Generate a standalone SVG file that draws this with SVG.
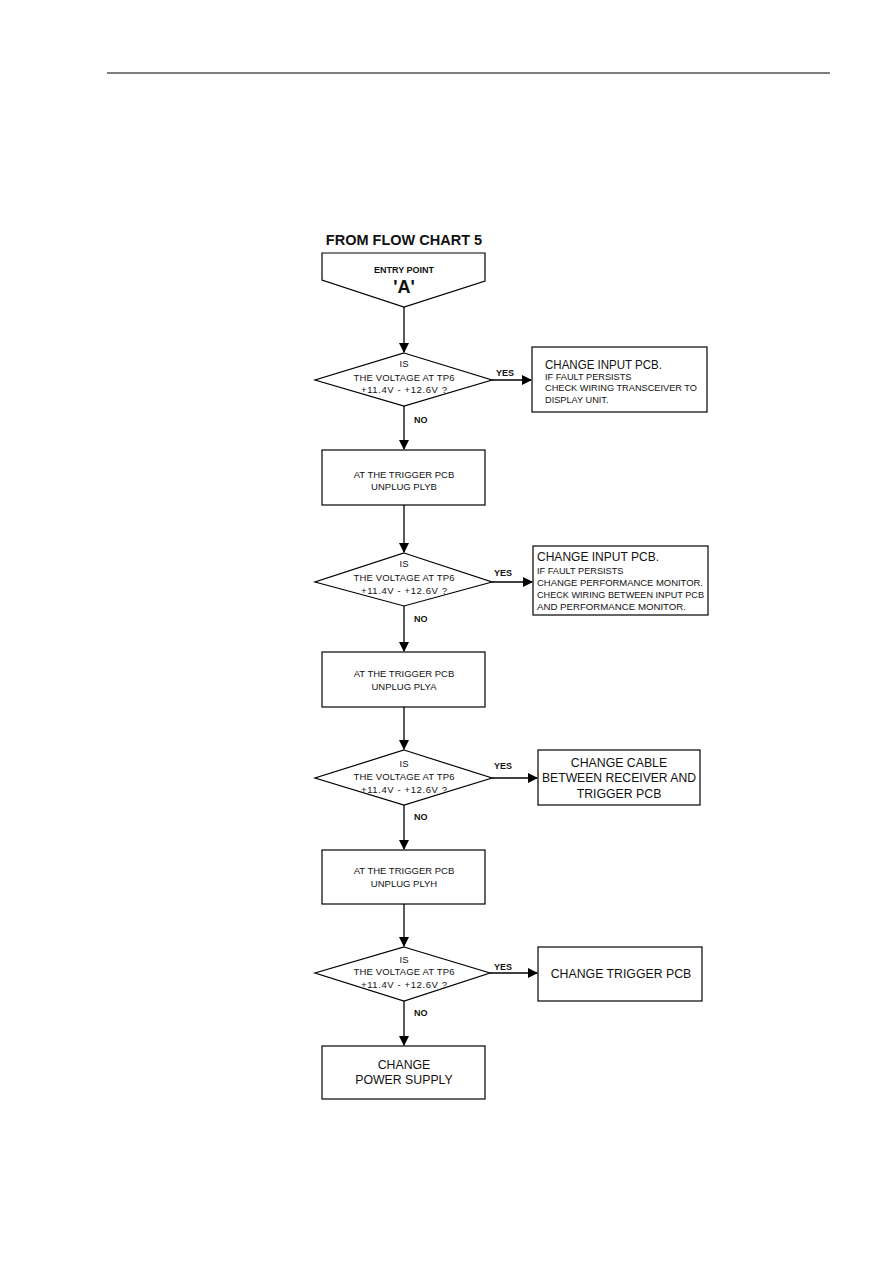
<svg xmlns="http://www.w3.org/2000/svg" width="893" height="1263" viewBox="0 0 893 1263">
<style>
.s{fill:#fff;stroke:#000;stroke-width:1.2}
.c{stroke:#000;stroke-width:1.3;fill:none}
text{font-family:"Liberation Sans",Arial,sans-serif;fill:#111}
.d{font-size:9.5px;text-anchor:middle}
.b{font-size:9.5px;text-anchor:middle}
.lbl{font-size:9px;font-weight:bold}
.big{font-size:12.3px}
.sm{font-size:9.2px}
.m{text-anchor:middle}
</style>
<defs>
<marker id="ar" markerWidth="10" markerHeight="10" refX="9" refY="5" orient="auto" markerUnits="userSpaceOnUse">
<path d="M0,0 L10,5 L0,10 Z" fill="#000"/>
</marker>
</defs>
<rect width="893" height="1263" fill="#fff"/>
<line x1="107" y1="73" x2="830" y2="73" stroke="#000" stroke-width="1.2"/>
<text x="404" y="245" font-size="14.5" font-weight="bold" text-anchor="middle">FROM FLOW CHART 5</text>

<g id="connectors">
<line class="c" x1="404" y1="307" x2="404" y2="352" marker-end="url(#ar)"/>
<line class="c" x1="492" y1="380" x2="531" y2="380" marker-end="url(#ar)"/>
<line class="c" x1="404" y1="406" x2="404" y2="449" marker-end="url(#ar)"/>
<line class="c" x1="404" y1="505" x2="404" y2="552" marker-end="url(#ar)"/>
<line class="c" x1="492" y1="582" x2="532" y2="582" marker-end="url(#ar)"/>
<line class="c" x1="404" y1="606" x2="404" y2="651" marker-end="url(#ar)"/>
<line class="c" x1="404" y1="707" x2="404" y2="749" marker-end="url(#ar)"/>
<line class="c" x1="492" y1="778" x2="537" y2="778" marker-end="url(#ar)"/>
<line class="c" x1="404" y1="805" x2="404" y2="849" marker-end="url(#ar)"/>
<line class="c" x1="404" y1="904" x2="404" y2="946" marker-end="url(#ar)"/>
<line class="c" x1="490" y1="973" x2="537" y2="973" marker-end="url(#ar)"/>
<line class="c" x1="404" y1="1001" x2="404" y2="1045" marker-end="url(#ar)"/>
<text class="lbl" x="496" y="376">YES</text>
<text class="lbl" x="414" y="423">NO</text>
<text class="lbl" x="494" y="576">YES</text>
<text class="lbl" x="414" y="622">NO</text>
<text class="lbl" x="494" y="769">YES</text>
<text class="lbl" x="414" y="820">NO</text>
<text class="lbl" x="494" y="970">YES</text>
<text class="lbl" x="414" y="1016">NO</text>
</g>

<g id="entry">
<path class="s" d="M322,253 L485,253 L485,281 L404,307 L322,280 Z"/>
<text x="404" y="273" font-size="9" font-weight="bold" text-anchor="middle">ENTRY POINT</text>
<text x="404" y="293" font-size="18" font-weight="bold" text-anchor="middle">'A'</text>
</g>

<g id="dec1">
<path class="s" d="M404,353 L492,380 L404,406 L315,380 Z"/>
<text class="d" x="404" y="367">IS</text>
<text class="d" x="404" y="381" textLength="101" lengthAdjust="spacing">THE VOLTAGE AT TP6</text>
<text class="d" x="404" y="393" textLength="86" lengthAdjust="spacing">+11.4V -  +12.6V ?</text>
</g>

<g id="yes1">
<rect class="s" x="532" y="347" width="175" height="65"/>
<text class="big" x="545" y="369" textLength="117" lengthAdjust="spacingAndGlyphs">CHANGE INPUT PCB.</text>
<text class="sm" x="545" y="380">IF FAULT PERSISTS</text>
<text class="sm" x="545" y="391" textLength="152" lengthAdjust="spacingAndGlyphs">CHECK WIRING TRANSCEIVER TO</text>
<text class="sm" x="545" y="403">DISPLAY UNIT.</text>
</g>

<g id="box1">
<rect class="s" x="322" y="450" width="163" height="55"/>
<text class="b" x="404" y="478">AT THE TRIGGER PCB</text>
<text class="b" x="404" y="490">UNPLUG PLYB</text>
</g>

<g id="dec2">
<path class="s" d="M404,553 L492,582 L404,606 L315,582 Z"/>
<text class="d" x="404" y="567">IS</text>
<text class="d" x="404" y="581" textLength="101" lengthAdjust="spacing">THE VOLTAGE AT TP6</text>
<text class="d" x="404" y="594" textLength="86" lengthAdjust="spacing">+11.4V -  +12.6V ?</text>
</g>

<g id="yes2">
<rect class="s" x="533" y="546" width="175" height="69"/>
<text class="big" x="537" y="561" textLength="122" lengthAdjust="spacingAndGlyphs">CHANGE INPUT PCB.</text>
<text class="sm" x="537" y="574">IF FAULT PERSISTS</text>
<text class="sm" x="537" y="586" textLength="166" lengthAdjust="spacingAndGlyphs">CHANGE PERFORMANCE MONITOR.</text>
<text class="sm" x="537" y="598" textLength="167" lengthAdjust="spacingAndGlyphs">CHECK WIRING BETWEEN INPUT PCB</text>
<text class="sm" x="537" y="610" textLength="149" lengthAdjust="spacingAndGlyphs">AND PERFORMANCE MONITOR.</text>
</g>

<g id="box2">
<rect class="s" x="322" y="652" width="163" height="55"/>
<text class="b" x="404" y="677">AT THE TRIGGER PCB</text>
<text class="b" x="404" y="690">UNPLUG PLYA</text>
</g>

<g id="dec3">
<path class="s" d="M404,750 L492,778 L404,805 L315,778 Z"/>
<text class="d" x="404" y="767">IS</text>
<text class="d" x="404" y="780" textLength="101" lengthAdjust="spacing">THE VOLTAGE AT TP6</text>
<text class="d" x="404" y="793" textLength="86" lengthAdjust="spacing">+11.4V -  +12.6V ?</text>
</g>

<g id="yes3">
<rect class="s" x="538" y="750" width="162" height="55"/>
<text class="big m" x="619" y="767">CHANGE CABLE</text>
<text class="big m" x="619" y="782" textLength="154" lengthAdjust="spacingAndGlyphs">BETWEEN RECEIVER AND</text>
<text class="big m" x="619" y="798">TRIGGER PCB</text>
</g>

<g id="box3">
<rect class="s" x="322" y="850" width="163" height="54"/>
<text class="b" x="404" y="874">AT THE TRIGGER PCB</text>
<text class="b" x="404" y="887">UNPLUG PLYH</text>
</g>

<g id="dec4">
<path class="s" d="M404,947 L490,973 L404,1001 L315,973 Z"/>
<text class="d" x="404" y="963">IS</text>
<text class="d" x="404" y="975" textLength="101" lengthAdjust="spacing">THE VOLTAGE AT TP6</text>
<text class="d" x="404" y="988" textLength="86" lengthAdjust="spacing">+11.4V -  +12.6V ?</text>
</g>

<g id="yes4">
<rect class="s" x="538" y="947" width="164" height="54"/>
<text class="big m" x="621" y="978">CHANGE TRIGGER PCB</text>
</g>

<g id="box4">
<rect class="s" x="322" y="1046" width="163" height="53"/>
<text class="big m" x="404" y="1069">CHANGE</text>
<text class="big m" x="404" y="1084">POWER SUPPLY</text>
</g>
</svg>
